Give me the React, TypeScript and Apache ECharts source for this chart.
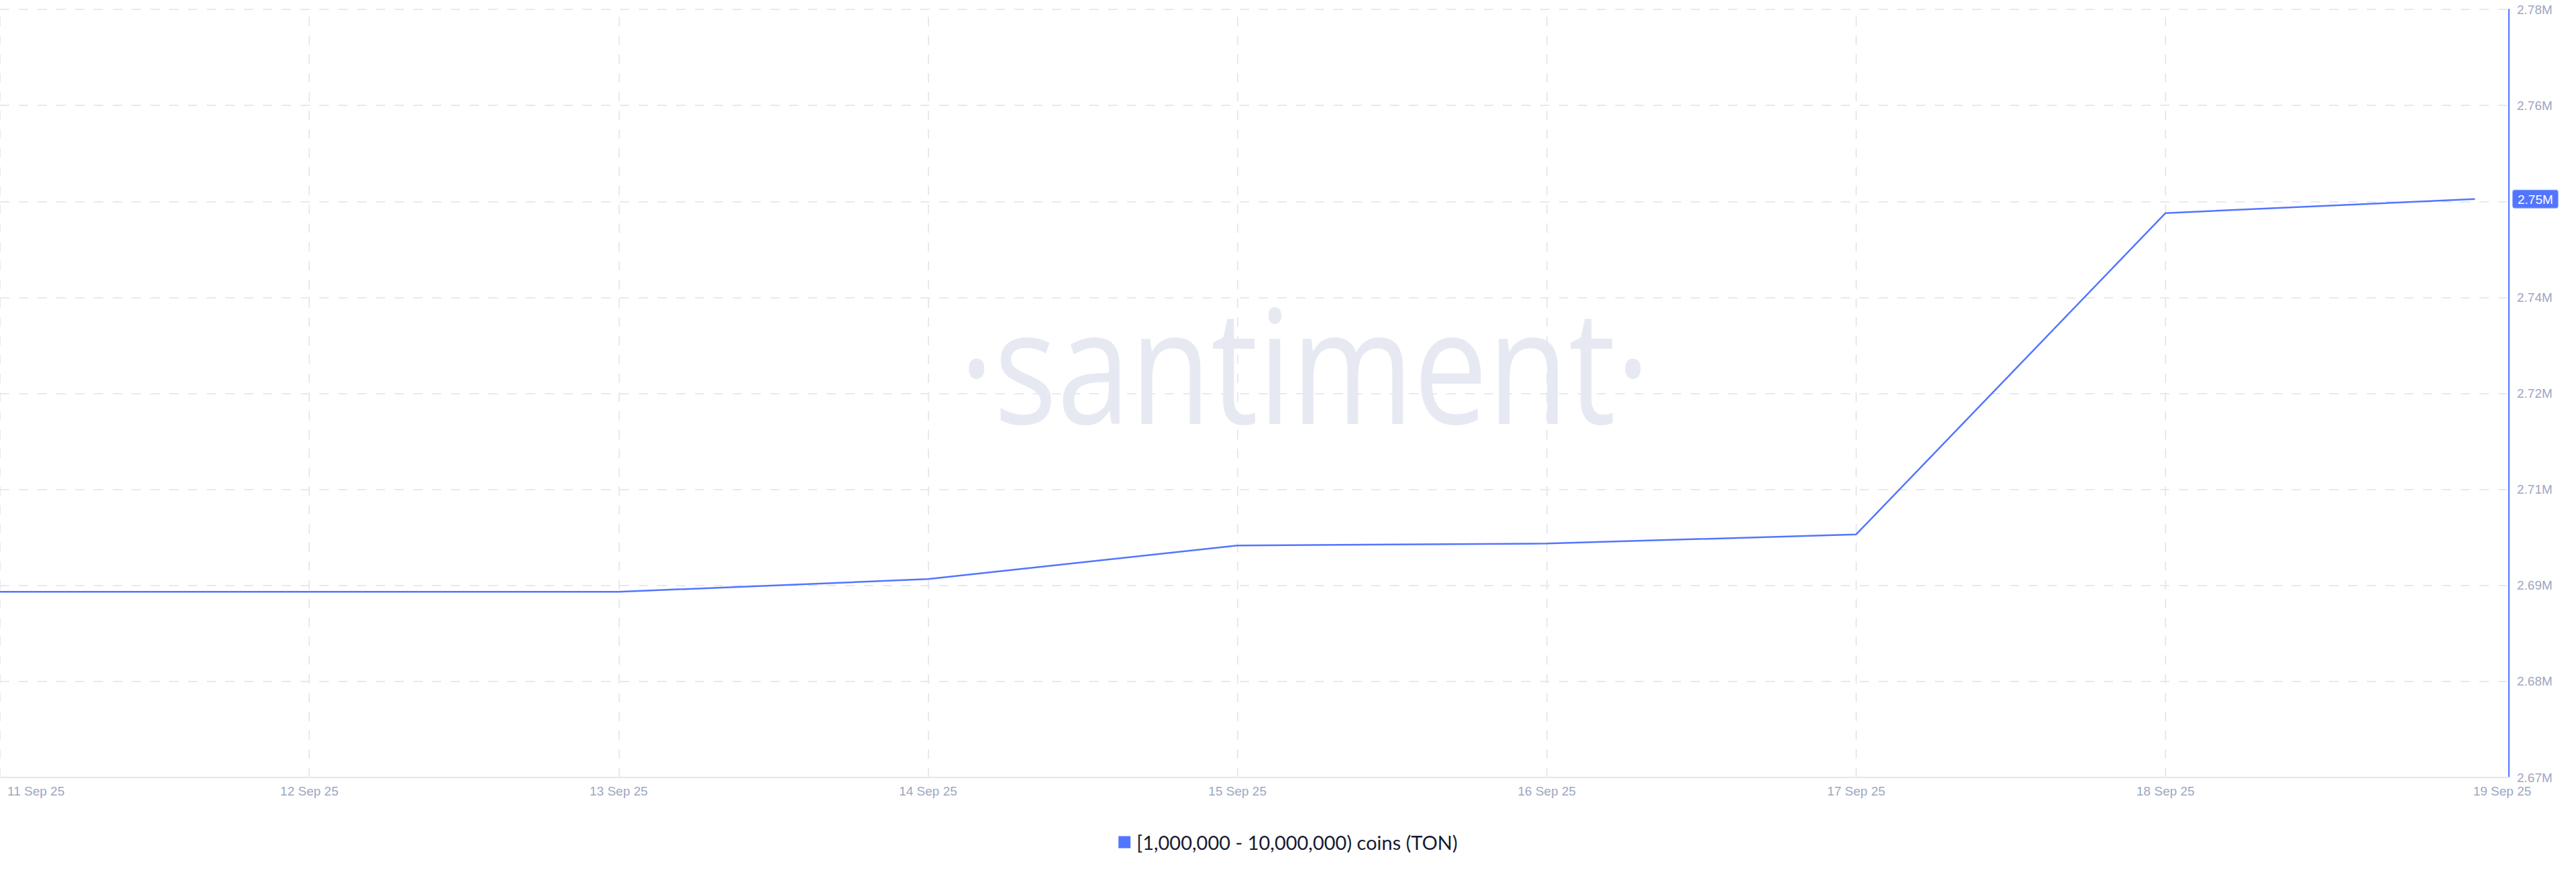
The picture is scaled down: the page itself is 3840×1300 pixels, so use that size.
import * as echarts from 'echarts';
import { useEffect, useRef } from 'react';

const dates = [
  '11 Sep 25',
  '12 Sep 25',
  '13 Sep 25',
  '14 Sep 25',
  '15 Sep 25',
  '16 Sep 25',
  '17 Sep 25',
  '18 Sep 25',
  '19 Sep 25',
];

// holders of 1M - 10M TON, daily
const holders = [
  2693200, 2693200, 2693200, 2695030, 2699860, 2700150, 2701460, 2747700,
  2749730,
];

const seriesName = '[1,000,000 - 10,000,000) coins (TON)';

// y scale: ticks are min + k * interval
const yMin = 2666488;
const yMax = 2777016;
const yInterval = 13816;

const BLUE = '#5275ff';
const GRID = '#e7e9f2';
const LABEL = '#9ca6c1';

const fmtM = (v: number) => (v / 1e6).toFixed(2) + 'M';

function App() {
  const chartRef = useRef<HTMLDivElement>(null);

  useEffect(() => {
    const myChart = echarts.init(chartRef.current, null, { renderer: 'svg' });

    const last = dates.length - 1;
    const xMax = last + 0.11;

    const option = {
      animation: false,
      backgroundColor: '#fff',
      grid: { left: 0, right: 100, top: 14, bottom: 141 },
      graphic: [
        {
          type: 'text',
          x: 1945,
          y: 540,
          z: -10,
          scaleX: 0.83,
          silent: true,
          style: {
            text: '·santiment·',
            fontSize: 237,
            fontFamily: '"Open Sans"',
            fill: '#e7e9f2',
            align: 'center',
            verticalAlign: 'middle',
          },
        },
      ],
      legend: {
        left: 'center',
        top: 1236,
        icon: 'rect',
        itemWidth: 18,
        itemHeight: 18,
        textStyle: {
          fontSize: 29,
          fontFamily: 'Lato',
          color: '#181c32',
          padding: [0, 0, 0, 4],
        },
        data: [seriesName],
      },
      xAxis: {
        type: 'value',
        min: 0,
        max: xMax,
        interval: 1,
        axisLine: {
          show: true,
          onZero: false,
          lineStyle: { color: '#e2e6f0', width: 2 },
        },
        axisTick: { show: false },
        splitLine: { show: false },
        axisLabel: {
          margin: 11,
          color: LABEL,
          fontSize: 19,
          fontFamily: '"Liberation Sans"',
          formatter: (v: number) => {
            if (v === 0) return '{first|' + dates[0] + '}';
            if (v === xMax) return '{last|' + dates[last] + '}';
            if (Number.isInteger(v) && v < last) return dates[v];
            return '';
          },
          alignMinLabel: 'left',
          rich: {
            first: {
              color: LABEL,
              fontSize: 19,
              fontFamily: '"Liberation Sans"',
              padding: [0, 0, 0, 11],
            },
            last: {
              color: LABEL,
              fontSize: 19,
              fontFamily: '"Liberation Sans"',
              padding: [0, 20, 0, 0],
            },
          },
        },
      },
      yAxis: {
        type: 'value',
        position: 'right',
        min: yMin,
        max: yMax,
        interval: yInterval,
        axisLine: {
          show: true,
          onZero: false,
          lineStyle: { color: BLUE, width: 2 },
        },
        axisTick: { show: false },
        splitLine: {
          show: true,
          lineStyle: { color: GRID, width: 2, type: [14, 14] },
        },
        axisLabel: {
          margin: 12,
          color: LABEL,
          fontSize: 19,
          fontFamily: '"Liberation Sans"',
          formatter: fmtM,
        },
        axisPointer: {
          show: true,
          status: 'show',
          value: holders[last],
          triggerTooltip: false,
          type: 'line',
          lineStyle: { opacity: 0 },
          label: {
            show: true,
            margin: 6,
            formatter: (p: any) => fmtM(p.value),
            backgroundColor: BLUE,
            color: '#fff',
            fontSize: 19,
            fontFamily: '"Liberation Sans"',
            padding: [4, 7, 3, 7],
            borderColor: '#8ea4ff',
            borderWidth: 1,
            shadowBlur: 0,
          },
        },
      },
      series: [
        {
          name: seriesName,
          type: 'line',
          color: BLUE,
          showSymbol: false,
          z: 3,
          lineStyle: { color: BLUE, width: 2.5 },
          data: holders.map((v, i) => [i, v]),
          markLine: {
            silent: true,
            symbol: 'none',
            z: 1,
            label: { show: false },
            lineStyle: { color: GRID, width: 2, type: [14, 14] },
            data: dates.slice(0, last).map((_, i) => ({ xAxis: i })),
          },
        },
      ],
    };

    myChart.setOption(option);

    return () => {
      myChart.dispose();
    };
  }, []);

  return (
    <div
      ref={chartRef}
      style={{ position: 'fixed', left: 0, top: 0, width: '3840px', height: '1300px' }}
    ></div>
  );
}

export default App;
